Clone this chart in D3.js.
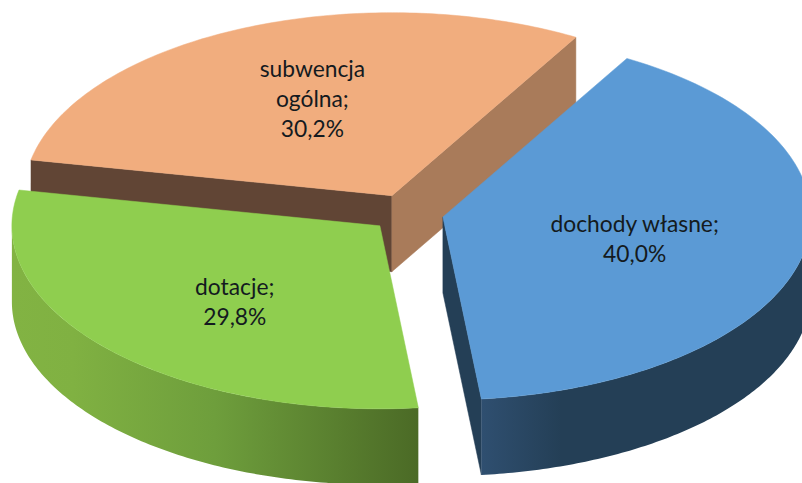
<!DOCTYPE html>
<html><head><meta charset="utf-8">
<style>html,body{margin:0;padding:0;background:#fff;overflow:hidden}svg{display:block}</style>
<script src="https://cdn.jsdelivr.net/npm/d3@7"></script>
</head><body>
<svg id="c" width="802" height="483"></svg>
<script>
const categories = ["dochody własne", "dotacje", "subwencja ogólna"];
const values = [40.0, 29.8, 30.2];
const labelLines = [["dochody własne;", "40,0%"], ["dotacje;", "29,8%"], ["subwencja", "ogólna;", "30,2%"]];
const topColors = ["#5B9AD5", "#8FCE4F", "#F1AD7E"];
const startFaceColors = [null, null, "#614535"];
const endFaceColors = ["#243F56", null, "#A97B5A"];
const wallStops = [
  [["0%", "#2F4F70"], ["25%", "#243F56"], ["100%", "#243F56"]],
  [["0%", "#82B343"], ["15%", "#80B142"], ["50%", "#6E9E3C"], ["100%", "#4B6A26"]],
  null
];
const labelNudgeX = [1, -1, 1];
const labelNudgeY = [2, 11, -8];
const drawOrder = [2, 1, 0];

const W = 802, H = 483;
const center = {x: 407, y: 213}, rx = 368, ry = 183, depth = 76;
const explodeX = 36.7, explodeY = 19;
const svg = d3.select("#c");
const defs = svg.append("defs");

const pie = d3.pie().sort(null).startAngle(Math.PI / 6).endAngle(Math.PI / 6 + 2 * Math.PI);
const arcs = pie(values);
const line = d3.line();

drawOrder.forEach(i => {
  const d = arcs[i];
  const mid = (d.startAngle + d.endAngle) / 2;
  const ox = center.x + explodeX * Math.sin(mid);
  const oy = center.y - explodeY * Math.cos(mid);
  const pt = (a, k = 1, dz = 0) => [ox + k * rx * Math.sin(a), oy - k * ry * Math.cos(a) + dz];
  const sweep = (a0, a1, dz = 0) => d3.range(0, 121).map(j => pt(a0 + (a1 - a0) * j / 120, 1, dz));
  const g = svg.append("g").attr("data-category", categories[i]);
  const apex = [ox, oy];
  const apexLow = [ox, oy + depth];
  const face = (a, color) => g.append("path").attr("fill", color).attr("stroke", color).attr("stroke-width", .5)
      .attr("d", line([apex, pt(a), pt(a, 1, depth), apexLow]) + "Z");

  if (startFaceColors[i]) face(d.startAngle, startFaceColors[i]);
  if (endFaceColors[i]) face(d.endAngle, endFaceColors[i]);

  // outer wall: only the part of the rim that faces the viewer
  if (wallStops[i]) {
    const a0 = Math.max(d.startAngle, Math.PI / 2);
    const a1 = Math.min(d.endAngle, 3 * Math.PI / 2);
    const upper = sweep(a0, a1), lower = sweep(a1, a0, depth);
    const xs = upper.map(p => p[0]);
    const x0 = d3.min(xs), x1 = Math.min(d3.max(xs), W);
    const gid = "wall" + i;
    const lg = defs.append("linearGradient").attr("id", gid)
      .attr("gradientUnits", "userSpaceOnUse")
      .attr("x1", x0).attr("x2", x1).attr("y1", 0).attr("y2", 0);
    wallStops[i].forEach(s => lg.append("stop").attr("offset", s[0]).attr("stop-color", s[1]));
    g.append("path").attr("fill", `url(#${gid})`)
      .attr("d", line(upper.concat(lower)) + "Z");
  }
  // top surface
  g.append("path").attr("fill", topColors[i]).attr("stroke", topColors[i]).attr("stroke-width", .5)
    .attr("d", line([apex].concat(sweep(d.startAngle, d.endAngle))) + "Z");

  // label
  const lp = pt(mid, .53);
  const lh = 30;
  const n = labelLines[i].length;
  const t = g.append("text").attr("text-anchor", "middle")
    .attr("font-family", "Lato, 'Open Sans', sans-serif").attr("font-size", 22.8).attr("fill", "#141a20");
  labelLines[i].forEach((s, j) => {
    t.append("tspan").attr("x", lp[0] + labelNudgeX[i]).attr("y", lp[1] + labelNudgeY[i] + (j - (n - 1) / 2) * lh + 8).text(s);
  });
});
</script>
</body></html>
